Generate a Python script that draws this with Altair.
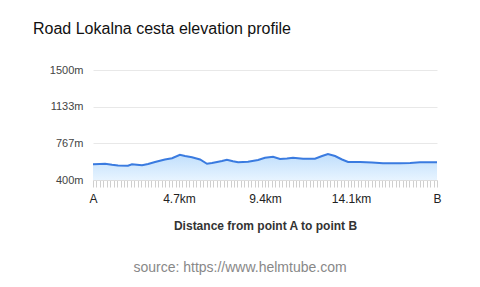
import altair as alt
import pandas as pd

# distance along route (km) and elevation (m)
distance_km = [0.0, 0.38, 0.66, 1.04, 1.37, 1.91, 2.13, 2.40, 2.68, 3.01, 3.39, 3.93,
               4.32, 4.75, 5.03, 5.41, 5.85, 6.23, 6.50, 6.78, 7.05, 7.32, 7.65, 7.93,
               8.47, 9.02, 9.40, 9.84, 10.22, 10.60, 10.93, 11.48, 12.13, 12.52, 12.84,
               13.23, 13.61, 13.94, 14.60, 15.25, 15.85, 16.78, 17.33, 17.87, 18.80]
elevation_m = [557, 560, 563, 552, 545, 543, 558, 553, 547, 560, 580, 605,
               618, 652, 640, 627, 605, 562, 570, 580, 590, 603, 588, 577,
               583, 600, 622, 633, 610, 615, 623, 613, 613, 640, 660,
               640, 605, 580, 580, 575, 567, 568, 570, 577, 577]

y_ticks = [400, 766.67, 1133.33, 1500]
x_tick_values = [round(i * 0.188, 3) for i in range(101)]
total_km = 18.8
base_elev = 400

df = pd.DataFrame({"dist": distance_km, "elev": elevation_m})

W, H = 344, 110

x_enc = alt.X(
    "dist:Q",
    scale=alt.Scale(domain=[0, total_km], nice=False, zero=False),
    axis=alt.Axis(
        values=x_tick_values,
        labelExpr="datum.value == 0 ? 'A' : datum.value == 18.8 ? 'B' : (datum.value == 4.7 || datum.value == 9.4 || datum.value == 14.1) ? datum.value + 'km' : ''",
        labelOverlap=False,
        labelFlush=False,
        grid=False,
        tickColor="#cfcfcf",
        tickSize=7,
        tickWidth=1,
        domainColor="#dddddd",
        labelPadding=6,
        labelFontSize=12,
        labelColor="#222222",
        labelFont="Liberation Sans",
        title="Distance from point A to point B",
        titleFont="Liberation Sans",
        titleFontSize=12,
        titleFontWeight="bold",
        titleColor="#333333",
        titlePadding=16,
    ),
)

y_enc = alt.Y(
    "elev:Q",
    scale=alt.Scale(domain=[400, 1500], nice=False, zero=False),
    axis=alt.Axis(
        values=y_ticks,
        labelExpr="format(datum.value, '.0f') + 'm'",
        domain=False,
        ticks=False,
        gridColor="#e8e8e8",
        labelPadding=10,
        labelFontSize=11,
        labelColor="#444444",
        labelFont="Liberation Sans",
        title=None,
    ),
)

area = alt.Chart(df).mark_area(
    line=alt.LineConfig(color="#3a7be0", strokeWidth=2),
    color=alt.Gradient(
        gradient="linear",
        stops=[alt.GradientStop(color="#a4d0fa", offset=0),
               alt.GradientStop(color="#ddefff", offset=1)],
        x1=1, x2=1, y1=0, y2=1,
    ),
).encode(x=x_enc, y=y_enc, y2=alt.datum(base_elev))

source = alt.Chart(pd.DataFrame({"t": ["source: https://www.helmtube.com"]})).mark_text(
    font="Liberation Sans", fontSize=14, color="#888888", align="center", baseline="middle"
).encode(text="t:N", x=alt.value(147), y=alt.value(198))

chart = alt.layer(area, source).properties(
    width=W, height=H,
    padding={"left": 93, "top": 70, "right": 43, "bottom": 107},
    autosize=alt.AutoSizeParams(type="none"),
    title=alt.TitleParams(
        "Road Lokalna cesta elevation profile",
        anchor="start", frame="group", dx=-60, offset=27,
        font="Liberation Sans", fontSize=16, fontWeight="normal", color="#111111",
    ),
).configure_view(stroke=None)

chart.save("out.html", embed_options={"renderer": "svg", "actions": False})
